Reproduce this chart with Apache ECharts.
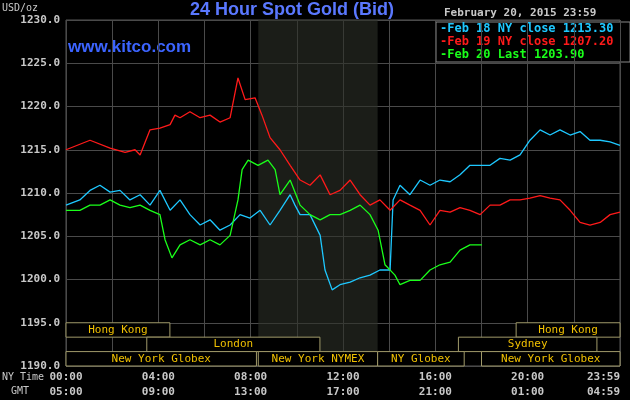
<!DOCTYPE html>
<html><head><meta charset="utf-8">
<script src="https://cdn.jsdelivr.net/npm/echarts@6/dist/echarts.min.js"></script>
<style>body{margin:0;background:#000}#c{width:630px;height:400px}</style>
</head><body><div id="c"></div>
<script>
// 数据：[小时, 价格]
const feb18 = [[0,1208.6],[0.6,1209.2],[1.04,1210.3],[1.47,1210.9],[1.91,1210.1],[2.34,1210.3],[2.77,1209.2],[3.21,1209.8],[3.64,1208.6],[4.07,1210.3],[4.51,1208],[4.94,1209.2],[5.37,1207.5],[5.81,1206.3],[6.24,1206.9],[6.67,1205.7],[7.11,1206.3],[7.54,1207.5],[7.97,1207.1],[8.41,1208],[8.84,1206.3],[9.27,1208],[9.71,1209.8],[9.92,1208.6],[10.14,1207.5],[10.57,1207.5],[11.01,1205.1],[11.22,1201.1],[11.53,1198.8],[11.87,1199.4],[12.31,1199.7],[12.74,1200.2],[13.17,1200.5],[13.6,1201.1],[14.04,1201.1],[14.17,1209.2],[14.47,1210.9],[14.9,1209.8],[15.34,1211.5],[15.77,1210.9],[16.2,1211.5],[16.64,1211.3],[17.07,1212.1],[17.5,1213.2],[17.94,1213.2],[18.37,1213.2],[18.8,1214],[19.24,1213.8],[19.67,1214.4],[20.1,1216.1],[20.54,1217.3],[20.97,1216.7],[21.4,1217.3],[21.84,1216.7],[22.27,1217.1],[22.7,1216.1],[23.14,1216.1],[23.57,1215.9],[24,1215.5]];
const feb19 = [[0,1215],[1.04,1216.1],[1.91,1215.2],[2.56,1214.7],[2.99,1215],[3.21,1214.4],[3.64,1217.3],[4.07,1217.5],[4.51,1217.9],[4.72,1219],[4.94,1218.7],[5.37,1219.4],[5.81,1218.7],[6.24,1219],[6.67,1218.2],[7.11,1218.7],[7.45,1223.3],[7.76,1220.8],[8.19,1221],[8.49,1219],[8.84,1216.4],[9.27,1215],[9.71,1213.2],[10.14,1211.5],[10.57,1210.9],[11.01,1212.1],[11.44,1209.8],[11.87,1210.3],[12.31,1211.5],[12.74,1209.8],[13.17,1208.6],[13.6,1209.2],[14.04,1208],[14.47,1209.2],[14.9,1208.6],[15.34,1208],[15.77,1206.3],[16.2,1208],[16.64,1207.8],[17.07,1208.3],[17.5,1208],[17.94,1207.5],[18.37,1208.6],[18.8,1208.6],[19.24,1209.2],[19.67,1209.2],[20.1,1209.4],[20.54,1209.7],[20.97,1209.4],[21.4,1209.2],[21.84,1208],[22.27,1206.6],[22.7,1206.3],[23.14,1206.6],[23.57,1207.5],[24,1207.8]];
const feb20 = [[0,1208],[0.6,1208],[1.04,1208.6],[1.47,1208.6],[1.91,1209.2],[2.34,1208.6],[2.77,1208.3],[3.21,1208.6],[3.64,1208],[4.07,1207.5],[4.29,1204.6],[4.59,1202.5],[4.94,1204],[5.37,1204.6],[5.81,1204],[6.24,1204.6],[6.67,1204],[7.11,1205.1],[7.45,1209.2],[7.63,1212.7],[7.89,1213.8],[8.32,1213.2],[8.75,1213.8],[9.06,1212.7],[9.27,1209.8],[9.71,1211.5],[10.14,1208.6],[10.57,1207.5],[11.01,1206.9],[11.44,1207.5],[11.87,1207.5],[12.31,1208],[12.74,1208.6],[13.17,1207.5],[13.52,1205.7],[13.82,1201.7],[14.25,1200.5],[14.47,1199.4],[14.9,1199.9],[15.34,1199.9],[15.77,1201.1],[16.2,1201.7],[16.64,1202],[17.07,1203.4],[17.5,1204],[18.02,1204]];
const nyTicks = ['00:00','04:00','08:00','12:00','16:00','20:00','23:59'];
const gmtTicks = ['05:00','09:00','13:00','17:00','21:00','01:00','04:59'];
// 交易时段：[行, 开始, 结束, 名称]
const sessions = [[0,0,4.5,'Hong Kong'],[0,19.5,24,'Hong Kong'],[1,3.5,11,'London'],[1,17,23,'Sydney'],
  [2,0,8.25,'New York Globex'],[2,8.33,13.5,'New York NYMEX'],[2,13.5,17.25,'NY Globex'],[2,18,24,'New York Globex']];
const legendNames = ['Feb 18 NY close 1213.30','Feb 19 NY close 1207.20','Feb 20 Last 1203.90'];
const colors = ['#1ec8ff','#ff1a1a','#1aff1a'];

const mono = 'DejaVu Sans Mono';
const chart = echarts.init(document.getElementById('c'));
const rowH = 5/3;
chart.setOption({
  backgroundColor:'#000',
  animation:false,
  grid:{left:66,right:10,top:20,bottom:34,outerBoundsMode:'none',containLabel:false},
  xAxis:{type:'value',min:0,max:24,interval:2,
    axisLine:{show:false},axisTick:{show:false},
    splitLine:{lineStyle:{color:'#4a4a4a'}},
    axisLabel:{color:'#c8c8c8',fontFamily:mono,fontSize:11,fontWeight:'bold',lineHeight:15,margin:4,
      alignMaxLabel:'right',
      formatter:v=>v%4?'':nyTicks[v/4]+'\n'+gmtTicks[v/4]}},
  yAxis:{type:'value',min:1190,max:1230,interval:5,
    axisLine:{show:false},axisTick:{show:false},
    splitLine:{lineStyle:{color:'#4a4a4a'}},
    axisLabel:{color:'#c8c8c8',fontFamily:mono,fontSize:11,fontWeight:'bold',margin:6,formatter:v=>v.toFixed(1)}},
  graphic:[
    {type:'rect',shape:{x:66,y:20,width:554,height:346},style:{fill:'none',stroke:'#555'},silent:true},
    {type:'text',left:2,top:3,style:{text:'USD/oz',fill:'#c8c8c8',font:'10px '+mono}},
    {type:'text',left:190,top:1,style:{text:'24 Hour Spot Gold (Bid)',fill:'#5a78ff',font:'bold 18px Liberation Sans'}},
    {type:'text',left:68,top:39,style:{text:'www.kitco.com',fill:'#3c64ff',font:'bold 17px Liberation Sans'}},
    {type:'text',left:444,top:8,style:{text:'February 20, 2015 23:59',fill:'#c8c8c8',font:'bold 11px '+mono}},
    {type:'rect',shape:{x:436,y:22,width:194,height:40},style:{fill:'#000',stroke:'#888'}},
    ...legendNames.map((n,i)=>({type:'text',left:440,top:23+i*13,style:{text:'-'+n,fill:colors[i],font:'bold 12px '+mono}})),
    {type:'text',left:2,top:372,style:{text:'NY Time',fill:'#c8c8c8',font:'10px '+mono}},
    {type:'text',left:11,top:386,style:{text:'GMT',fill:'#c8c8c8',font:'10px '+mono}}
  ],
  series:[
    {type:'line',data:[],markArea:{silent:true,itemStyle:{color:'rgba(45,48,40,0.6)'},data:[[{xAxis:8.33},{xAxis:13.5}]]}},
    ...[feb18,feb19,feb20].map((d,i)=>({type:'line',data:d,showSymbol:false,lineStyle:{color:colors[i],width:1.3},z:3})),
    {type:'custom',data:sessions,z:4,renderItem:(p,api)=>{
      const r=api.value(0),s=api.value(1),e=api.value(2);
      const top=1195-r*rowH;
      const a=api.coord([s,top]),b=api.coord([e,top-rowH]);
      return {type:'group',children:[
        {type:'rect',shape:{x:a[0],y:a[1],width:b[0]-a[0],height:b[1]-a[1]},style:{fill:'#000',stroke:'#a09a6a',lineWidth:1}},
        {type:'text',x:(a[0]+b[0])/2,y:(a[1]+b[1])/2,style:{text:sessions[p.dataIndex][3],fill:'#f0c000',font:'11px '+mono,align:'center',verticalAlign:'middle'}}
      ]};
    }}
  ]
});
</script></body></html>
